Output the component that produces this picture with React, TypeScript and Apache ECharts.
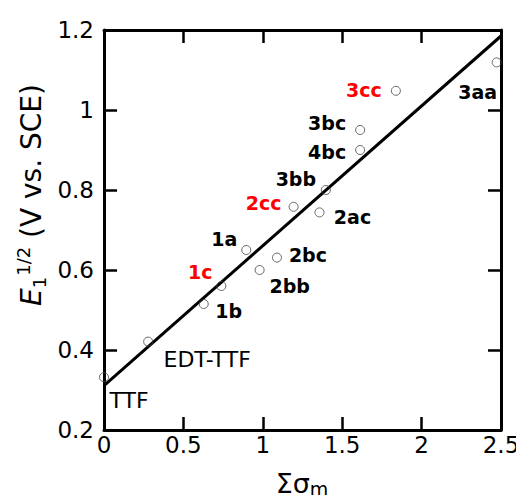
import React, { useEffect, useRef } from "react";
import * as echarts from "echarts";

const labels = ["TTF", "EDT-TTF", "1b", "1c", "1a", "2bb", "2bc", "2cc", "2ac", "3bb", "4bc", "3bc", "3cc", "3aa"];
const sigma = [0.0, 0.278, 0.628, 0.739, 0.896, 0.98, 1.089, 1.194, 1.357, 1.397, 1.613, 1.613, 1.838, 2.473];
const e12 = [0.332, 0.421, 0.515, 0.56, 0.65, 0.6, 0.631, 0.758, 0.744, 0.8, 0.9, 0.95, 1.048, 1.119];
const redLabels = ["1c", "2cc", "3cc"];
const boldLabels = ["1b", "1c", "1a", "2bb", "2bc", "2cc", "2ac", "3bb", "4bc", "3bc", "3cc", "3aa"];
const labelOffsets: Record<string, [number, number]> = {
  "TTF": [25, 23],
  "EDT-TTF": [59, 18],
  "1b": [25, 7],
  "1c": [-21, -14],
  "1a": [-22, -11],
  "2bb": [30, 16],
  "2bc": [31, -3],
  "2cc": [-30, -4],
  "2ac": [33, 5],
  "3bb": [-30, -11],
  "4bc": [-33, 2],
  "3bc": [-33, -7],
  "3cc": [-32, -1],
  "3aa": [-19, 30],
};
const fitX = [0, 2.5];
const fitY = [0.311, 1.185];

const FONT = "'DejaVu Sans', sans-serif";

export default function App() {
  const ref = useRef<HTMLDivElement>(null);
  useEffect(() => {
    if (!ref.current) return;
    const chart = echarts.init(ref.current, undefined, { renderer: "svg" });
    const axisCommon = {
      axisLine: { show: true, onZero: false, lineStyle: { color: "#000", width: 3 } },
      axisTick: { show: true, inside: true, length: 13, lineStyle: { color: "#000", width: 2.5 } },
      splitLine: { show: false },
    };
    const points = labels.map((name, i) => {
      const bold = boldLabels.includes(name);
      return {
        value: [sigma[i], e12[i]],
        label: {
          show: true,
          position: "inside",
          formatter: name,
          offset: labelOffsets[name],
          color: redLabels.includes(name) ? "#ff0000" : "#000",
          fontWeight: bold ? "bold" : "normal",
          fontSize: bold ? 19 : 22,
          fontFamily: FONT,
          textBorderWidth: 0,
          textBorderColor: "transparent",
          opacity: 1,
        },
      };
    });
    chart.setOption({
      animation: false,
      backgroundColor: "#fff",
      grid: { left: 104, right: 23, top: 30, bottom: 73, containLabel: false },
      xAxis: [
        {
          type: "value", min: 0, max: 2.5, interval: 0.5, position: "bottom",
          ...axisCommon,
          axisLabel: { color: "#000", fontSize: 23, fontFamily: FONT, margin: 3 },
        },
        {
          type: "value", min: 0, max: 2.5, interval: 0.5, position: "top",
          ...axisCommon,
          axisLabel: { show: false },
        },
      ],
      yAxis: [
        {
          type: "value", min: 0.2, max: 1.2, interval: 0.2, position: "left",
          ...axisCommon,
          axisLabel: { color: "#000", fontSize: 23, fontFamily: FONT, margin: 10 },
        },
        {
          type: "value", min: 0.2, max: 1.2, interval: 0.2, position: "right",
          ...axisCommon,
          axisLabel: { show: false },
        },
      ],
      series: [
        {
          type: "line",
          data: fitX.map((x, i) => [x, fitY[i]]),
          symbol: "none",
          lineStyle: { color: "#000", width: 3 },
          z: 2,
          silent: true,
        },
        {
          type: "scatter",
          data: points,
          symbol: "circle",
          symbolSize: 9,
          itemStyle: { color: "rgba(255,255,255,0)", borderColor: "#444", borderWidth: 1 },
          emphasis: { disabled: true },
          z: 3,
        },
      ],
      graphic: [
        {
          type: "text",
          x: 31,
          y: 195,
          rotation: Math.PI / 2,
          style: {
            text: "{e|E}{sub|1}{sup|1/2}{n| (V vs. SCE)}",
            align: "center",
            verticalAlign: "middle",
            fill: "#000",
            fontFamily: FONT,
            rich: {
              e: { fontStyle: "italic", fontSize: 28, fontFamily: FONT, lineHeight: 34, verticalAlign: "middle" },
              sub: { fontSize: 18, fontFamily: FONT, lineHeight: 18, verticalAlign: "bottom", padding: [0, 1, 0, 0] },
              sup: { fontSize: 18, fontFamily: FONT, lineHeight: 18, verticalAlign: "top" },
              n: { fontSize: 28, fontFamily: FONT, lineHeight: 34, verticalAlign: "middle" },
            },
          },
        },
        {
          type: "text",
          x: 302,
          y: 483,
          style: {
            text: "{s|Σσ}{m|m}",
            align: "center",
            verticalAlign: "middle",
            fill: "#000",
            fontFamily: FONT,
            rich: {
              s: { fontSize: 27, fontFamily: FONT, lineHeight: 30, verticalAlign: "middle" },
              m: { fontSize: 19, fontFamily: FONT, lineHeight: 19, verticalAlign: "bottom" },
            },
          },
        },
      ],
    });
    return () => chart.dispose();
  }, []);
  return <div ref={ref} style={{ width: 524, height: 503, margin: -8 }} />;
}
